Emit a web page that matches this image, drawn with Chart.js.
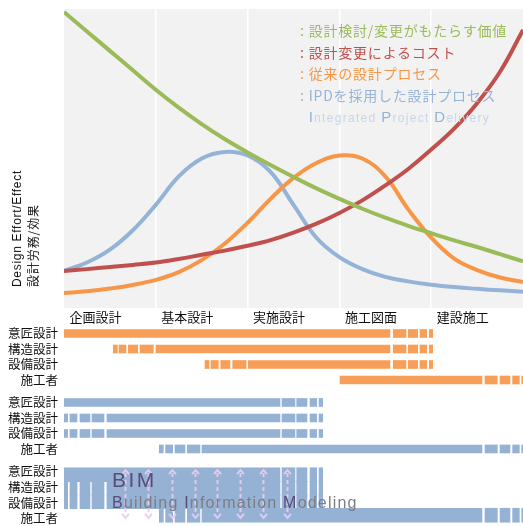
<!DOCTYPE html>
<html><head><meta charset="utf-8">
<script src="https://cdn.jsdelivr.net/npm/chart.js@4/dist/chart.umd.min.js"></script>
<style>
html,body{margin:0;padding:0;background:#fff;}
#wrap{position:relative;width:523px;height:526px;overflow:hidden;}
canvas{position:absolute;left:0;}
#topChart{top:0;width:523px;height:330px;}
#barChart{top:320px;width:523px;height:206px;}
.ov{position:absolute;white-space:nowrap;}
#ytitle{left:10px;top:287px;width:160px;height:32px;transform-origin:0 0;transform:rotate(-90deg);line-height:16px;color:#111;}
#ytitle .en{font:12px 'Liberation Sans',Arial,sans-serif;letter-spacing:0.7px;}
#ytitle .ja{font:12px 'Noto Sans CJK JP',sans-serif;letter-spacing:0.9px;}
#legend{left:300px;top:20px;font:14px 'Noto Sans CJK JP',sans-serif;line-height:21.5px;letter-spacing:0.8px;}
#legend .sub{font:12px 'Liberation Sans',Arial,sans-serif;letter-spacing:1.3px;color:#c6d6ea;}
#legend .sub b{font-weight:normal;font-size:15px;color:#95b3d7;}
#bim{left:112px;top:468px;font-family:'Liberation Sans',Arial,sans-serif;}
#bim .t1{font-size:21px;letter-spacing:2.5px;color:#5b4b7b;line-height:24px;}
#bim .t2{font-size:16px;letter-spacing:1.2px;color:#7d7d84;line-height:22px;}
#bim .t2 b{font-weight:normal;color:#5b4b7b;}
</style></head><body>
<div id="wrap">
<canvas id="topChart" width="523" height="330"></canvas>
<canvas id="barChart" width="523" height="206"></canvas>
<div id="ytitle" class="ov"><div class="en">Design Effort/Effect</div><div class="ja">設計労務/効果</div></div>
<div id="legend" class="ov"></div>
<div id="bim" class="ov"><div class="t1">BIM</div><div class="t2"><b>B</b>uilding <b>I</b>nformation <b>M</b>odeling</div></div>
</div>
<script>
// ---------- data ----------
const PHASES = ['企画設計','基本設計','実施設計','施工図面','建設施工'];
const PHASE_TICKS = [0,1,2,3,4];
const CURVE_X = [0,0.25,0.5,0.75,1,1.25,1.5,1.75,2,2.25,2.5,2.75,3,3.25,3.5,3.75,4,4.25,4.5,4.75,5];
const VALUE_CURVE = [99,92.5,86,79.5,73,67,61.5,56.5,52,47.8,43.8,40,36.5,33.2,30.2,27.5,25,22.6,20.4,18,15.6];
const COST_CURVE = [12.4,13,13.7,14.4,15.2,16.4,17.8,19.2,20.8,22.7,25.2,28.2,31.8,36,41,46.5,53,60,68.5,79,93];
const TRADITIONAL_CURVE = [5,5.6,6.5,7.7,9.4,12,16,21.5,28.5,36.5,43.5,48.5,51,50,44,33,23.5,16.5,12.7,10.2,8.7];
const IPD_CURVE = [12.4,15.2,19.5,26,34.5,44,50,52.2,51,45.5,34.5,23.5,17,13,10.4,8.9,7.8,7,6.4,5.9,5.4];
const SERIES_LABELS = ['設計検討/変更がもたらす価値','設計変更によるコスト','従来の設計プロセス','IPDを採用した設計プロセス'];
const SERIES_COLORS = ['#9bbb59','#c0504d','#f79646','#95b3d7'];

const ROLES = ['意匠設計','構造設計','設備設計','施工者'];
const TRADITIONAL_BARS = [
  [[0,3.551],[3.587,3.725],[3.751,3.853],[3.878,3.951],[3.979,4.016]],
  [[0.537,0.581],[0.599,0.675],[0.701,0.803],[0.828,0.973],[1.002,3.551],[3.587,3.725],[3.751,3.853],[3.878,3.951],[3.979,4.016]],
  [[1.536,1.580],[1.601,1.681],[1.707,1.808],[1.838,1.983],[2.008,3.551],[3.587,3.725],[3.751,3.853],[3.878,3.951],[3.979,4.016]],
  [[3.007,4.553],[4.586,4.720],[4.750,4.858],[4.887,4.960],[4.986,5.0]]
];
const IPD_BARS = [
  [[0,2.353],[2.375,2.516],[2.535,2.647],[2.680,2.753],[2.778,2.818]],
  [[0,0.040],[0.065,0.142],[0.174,0.283],[0.305,0.436],[0.468,2.353],[2.375,2.516],[2.535,2.647],[2.680,2.753],[2.778,2.818]],
  [[0,0.040],[0.065,0.142],[0.174,0.283],[0.305,0.436],[0.468,2.353],[2.375,2.516],[2.535,2.647],[2.680,2.753],[2.778,2.818]],
  [[1.038,1.082],[1.107,1.184],[1.209,1.318],[1.343,1.481],[1.503,4.553],[4.586,4.720],[4.750,4.858],[4.887,4.960],[4.986,5.0]]
];
const BIM_BARS = [
  [[0,2.353],[2.375,2.516],[2.535,2.647],[2.680,2.753],[2.778,2.818]],
  [[0,0.040],[0.065,0.142],[0.174,0.283],[0.305,0.436],[0.468,2.353],[2.375,2.516],[2.535,2.647],[2.680,2.753],[2.778,2.818]],
  [[0,0.040],[0.065,0.142],[0.174,0.283],[0.305,0.436],[0.468,2.353],[2.375,2.516],[2.535,2.647],[2.680,2.753],[2.778,2.818]],
  [[1.038,1.082],[1.107,1.184],[1.209,1.318],[1.343,1.481],[1.503,4.553],[4.586,4.720],[4.750,4.858],[4.887,4.960],[4.986,5.0]]
];
const TRAD_ROWS = [0,1,2,3];
const IPD_ROWS = [4.45,5.45,6.45,7.45];
const BIM_ROWS = [9.113,9.984,10.855,11.726];
const LABEL_ROWS = [0,1,2,3,4.45,5.45,6.45,7.45,8.87,9.9,10.94,11.9];
const ARROW_X = [0.664,0.915,1.176,1.427,1.667,1.917,2.168,2.429];
const ARROW_SPAN = [8.81,11.9];

// ---------- legend (HTML text) ----------
const lg = document.getElementById('legend');
SERIES_LABELS.forEach((t,i)=>{
  const d = document.createElement('div');
  d.style.color = SERIES_COLORS[i];
  d.textContent = ': ' + t;
  lg.appendChild(d);
});
const sub = document.createElement('div');
sub.innerHTML = '<span style="visibility:hidden;font:14px \'Noto Sans CJK JP\';letter-spacing:0.8px">: </span><span class="sub"><b>I</b>ntegrated <b>P</b>roject <b>D</b>elivery</span>';
lg.appendChild(sub);

const CJK = "'Noto Sans CJK JP', sans-serif";

// ---------- top line chart ----------
const bgPlugin = {
  id:'bg',
  beforeDraw(chart){
    const {ctx, chartArea:a} = chart;
    ctx.save(); ctx.fillStyle = '#f2f2f2';
    ctx.fillRect(a.left, a.top, a.right-a.left, a.bottom-a.top);
    ctx.restore();
  }
};
const mk = (vals) => vals.map((v,i)=>({x:CURVE_X[i], y:v}));
const curves = [VALUE_CURVE, COST_CURVE, TRADITIONAL_CURVE, IPD_CURVE];
new Chart(document.getElementById('topChart'), {
  type:'line',
  data:{ datasets: curves.map((c,i)=>({
    label: SERIES_LABELS[i], data: mk(c), borderColor: SERIES_COLORS[i],
    borderWidth: 4, pointRadius: 0, fill:false, tension:0.4
  }))},
  options:{
    responsive:false, animation:false, devicePixelRatio:1, events:[],
    layout:{padding:{left:64, top:9, right:0, bottom:0}},
    plugins:{legend:{display:false}, tooltip:{enabled:false}},
    scales:{
      x:{ type:'linear', min:0, max:5,
        afterBuildTicks: s => { s.ticks = PHASE_TICKS.map(v=>({value:v})); },
        afterFit: s => { s.height = 22; s.paddingLeft = 0; s.paddingRight = 0; },
        ticks:{ align:'start', labelOffset:5.5, padding:1, color:'#111', autoSkip:false, maxRotation:0,
          font:{family:CJK, size:13},
          callback:(v,i)=>PHASES[i] },
        grid:{ drawTicks:false, lineWidth:1.5,
          color: c => (c.tick && c.tick.value > 0) ? '#ffffff' : 'rgba(0,0,0,0)' },
        border:{display:false}
      },
      y:{ display:false, min:0, max:100 }
    }
  },
  plugins:[bgPlugin]
});

// ---------- bottom bar chart ----------
const barSets = [];
function addGroup(rows, positions, color, thick){
  rows.forEach((segs, r) => {
    barSets.push({
      data: segs.map(s => ({x:s, y:positions[r]})),
      backgroundColor: color, borderWidth:0, barThickness: thick, stack:'all'
    });
  });
}
addGroup(TRADITIONAL_BARS, TRAD_ROWS, '#f79e58', 8);
addGroup(IPD_BARS, IPD_ROWS, '#95b1d4', 8);
addGroup(BIM_BARS, BIM_ROWS, '#95b1d4', 14);

const arrowPlugin = {
  id:'arrows',
  afterDatasetsDraw(chart){
    const {ctx, scales:{x, y}} = chart;
    const y0 = y.getPixelForValue(ARROW_SPAN[0]);
    const y1 = y.getPixelForValue(ARROW_SPAN[1]);
    ctx.save();
    ctx.strokeStyle = 'rgba(232,204,236,0.92)';
    ctx.lineWidth = 2;
    ARROW_X.forEach(v => {
      const px = Math.round(x.getPixelForValue(v)) + 0.5;
      ctx.setLineDash([4,3]);
      ctx.beginPath(); ctx.moveTo(px, y0+3); ctx.lineTo(px, y1-3); ctx.stroke();
      ctx.setLineDash([]);
      ctx.beginPath();
      ctx.moveTo(px-3.5, y0+4); ctx.lineTo(px, y0); ctx.lineTo(px+3.5, y0+4);
      ctx.moveTo(px-3.5, y1-4); ctx.lineTo(px, y1); ctx.lineTo(px+3.5, y1-4);
      ctx.stroke();
    });
    ctx.restore();
  }
};

new Chart(document.getElementById('barChart'), {
  type:'bar',
  data:{ datasets: barSets },
  options:{
    indexAxis:'y', responsive:false, animation:false, devicePixelRatio:1, events:[],
    layout:{padding:0},
    plugins:{legend:{display:false}, tooltip:{enabled:false}},
    scales:{
      x:{ type:'linear', min:0, max:5, display:false, stacked:false },
      y:{ type:'linear', min:-0.871, max:12.42, reverse:true, offset:false,
        afterBuildTicks: s => { s.ticks = LABEL_ROWS.map(v=>({value:v})); },
        afterFit: s => { s.width = 64; s.paddingTop = 0; s.paddingBottom = 0; },
        ticks:{ autoSkip:false, padding:6, color:'#111', font:{family:CJK, size:12.5},
          callback:(v,i)=>ROLES[i % 4] },
        grid:{display:false, drawTicks:false}, border:{display:false}
      }
    }
  },
  plugins:[arrowPlugin]
});
</script>
</body></html>
